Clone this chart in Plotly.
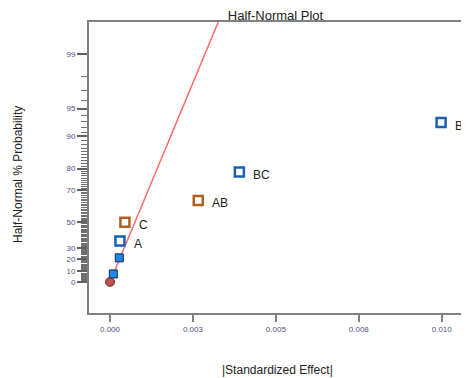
import plotly.graph_objects as go
from statistics import NormalDist

nd = NormalDist()

def hn(p):
    # half-normal probability (%) -> z score
    return nd.inv_cdf(0.5 + p / 200.0)

# ---- data ----
effect_x = [0.00010, 0.00028, 0.00030, 0.00045, 0.00266, 0.00390, 0.00998]
effect_pct = [7.14, 21.43, 35.71, 50.0, 64.29, 78.57, 92.86]
effect_lbl = ["", "", "A", "C", "AB", "BC", "B"]
effect_kind = ["error", "error", "pos", "neg", "neg", "pos", "pos"]

origin_x = [0.0]
origin_pct = [0.0]

line_x = [0.0000995, 0.00343]
line_pct = [7.14, 99.8]

y_major = [0, 10, 20, 30, 50, 70, 80, 90, 95, 99]
y_minor = [p for p in range(1, 99) if p not in y_major]
x_ticks = [0.0, 0.0025, 0.005, 0.0075, 0.01]
x_ticktext = ["0.000", "0.003", "0.005", "0.008", "0.010"]

styles = {
    "error": dict(symbol="square", size=8, color="#1e88e5", line=dict(color="#0d2a5c", width=1)),
    "pos": dict(symbol="square", size=9, color="white", line=dict(color="#1b5fb0", width=2.5)),
    "neg": dict(symbol="square", size=9, color="white", line=dict(color="#b0601e", width=2.5)),
}

fig = go.Figure()

fig.add_trace(go.Scatter(
    x=line_x, y=[hn(p) for p in line_pct], mode="lines",
    line=dict(color="#ff6b6b", width=1.5), hoverinfo="skip", showlegend=False))

fig.add_trace(go.Scatter(
    x=origin_x, y=[hn(p) for p in origin_pct], mode="markers",
    marker=dict(symbol="circle", size=9, color="#c0504d", line=dict(color="#7a2a28", width=1)),
    showlegend=False))

for kind in ["error", "pos", "neg"]:
    xs = [x for x, k in zip(effect_x, effect_kind) if k == kind]
    ys = [hn(p) for p, k in zip(effect_pct, effect_kind) if k == kind]
    fig.add_trace(go.Scatter(x=xs, y=ys, mode="markers", marker=styles[kind], showlegend=False))

for x, p, t in zip(effect_x, effect_pct, effect_lbl):
    if t:
        fig.add_annotation(x=x, y=hn(p), text=t, showarrow=False, xanchor="left",
                           xshift=12, yshift=-3, font=dict(family="Arial", size=12, color="#222222"))

tick_font = dict(family="Arial", size=8, color="#50507a")

fig.update_layout(
    width=469, height=378,
    margin=dict(l=81, r=15, t=14, b=73, autoexpand=False),
    paper_bgcolor="white", plot_bgcolor="white",
    title=dict(text="Half-Normal Plot", x=0.5, xref="paper", y=1 - 12 / 378, yanchor="bottom",
               font=dict(family="Arial", size=13, color="#222222")),
    xaxis=dict(range=[-0.000633, 0.01061], tickvals=x_ticks, ticktext=x_ticktext,
               ticks="outside", ticklen=7, tickwidth=1.5, tickcolor="#808080",
               showgrid=False, zeroline=False, showline=True, linecolor="#808080",
               linewidth=2, mirror=True, tickfont=tick_font),
    yaxis=dict(range=[-0.352, 2.94], tickvals=[hn(p) for p in y_major],
               ticktext=[str(p) for p in y_major],
               ticks="outside", ticklen=10, tickwidth=1.5, tickcolor="#606060",
               minor=dict(tickvals=[hn(p) for p in y_minor], ticks="outside", ticklen=6,
                          tickwidth=1, tickcolor="#707070", showgrid=False),
               showgrid=False, zeroline=False, showline=True, linecolor="#808080",
               linewidth=2, mirror=True, tickfont=tick_font),
)

fig.add_annotation(text="|Standardized Effect|", xref="paper", yref="paper",
                   x=(277 - 89) / 373, y=(313 - 370) / 291, showarrow=False,
                   xanchor="center", yanchor="middle",
                   font=dict(family="Arial", size=12, color="#222222"))
fig.add_annotation(text="Half-Normal % Probability", xref="paper", yref="paper",
                   x=(18 - 89) / 373, y=(313 - 175) / 291, textangle=-90, showarrow=False,
                   xanchor="center", yanchor="middle",
                   font=dict(family="Arial", size=12, color="#222222"))

fig.write_html("out.html")
